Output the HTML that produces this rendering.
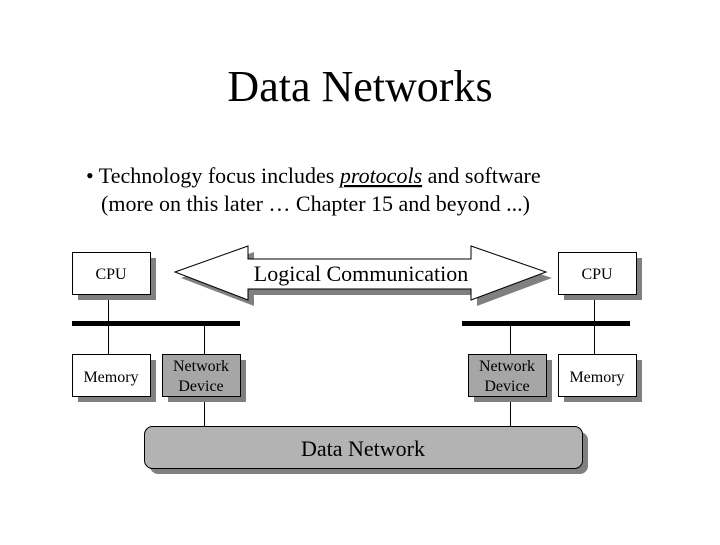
<!DOCTYPE html>
<html><head><style>
body{margin:0;background:#fff;}
svg text{font-family:"Liberation Serif",serif;fill:#000;}
</style></head><body>
<svg width="720" height="540" xmlns="http://www.w3.org/2000/svg">
<rect width="720" height="540" fill="#fff"/>
<text x="360" y="101" font-size="44" text-anchor="middle">Data Networks</text>
<text x="86" y="183" font-size="22">• Technology focus includes <tspan font-style="italic" text-decoration="underline">protocols</tspan> and software</text>
<text x="101" y="211" font-size="22">(more on this later … Chapter 15 and beyond ...)</text>
<!-- arrow shadow -->
<polygon points="181,278 254,252 254,265 477,265 477,252 552,278 477,306 477,295 254,295 254,306" fill="#808080"/>
<polygon points="175,272 248,246 248,259 471,259 471,246 546,272 471,300 471,289 248,289 248,300" fill="#fff" stroke="#000" stroke-width="1"/>
<text x="361" y="281" font-size="22" text-anchor="middle">Logical Communication</text>
<!-- lines -->
<g stroke="#000" stroke-width="1">
<line x1="108.5" y1="294" x2="108.5" y2="354"/>
<line x1="204.5" y1="322" x2="204.5" y2="426"/>
<line x1="510.5" y1="322" x2="510.5" y2="426"/>
<line x1="594.5" y1="294" x2="594.5" y2="354"/>
</g>
<rect x="72" y="321" width="168" height="5" fill="#000"/>
<rect x="462" y="321" width="168" height="5" fill="#000"/>
<!-- boxes -->
<g>
<rect x="78" y="258" width="78" height="42" fill="#808080"/>
<rect x="72.5" y="252.5" width="78" height="42" fill="#fff" stroke="#000"/>
<rect x="78" y="360" width="78" height="42" fill="#808080"/>
<rect x="72.5" y="354.5" width="78" height="42" fill="#fff" stroke="#000"/>
<rect x="168" y="360" width="78" height="42" fill="#808080"/>
<rect x="162.5" y="354.5" width="78" height="42" fill="#a6a6a6" stroke="#000"/>
<rect x="564" y="258" width="78" height="42" fill="#808080"/>
<rect x="558.5" y="252.5" width="78" height="42" fill="#fff" stroke="#000"/>
<rect x="564" y="360" width="78" height="42" fill="#808080"/>
<rect x="558.5" y="354.5" width="78" height="42" fill="#fff" stroke="#000"/>
<rect x="474" y="360" width="78" height="42" fill="#808080"/>
<rect x="468.5" y="354.5" width="78" height="42" fill="#a6a6a6" stroke="#000"/>
<rect x="150" y="432" width="438" height="42" rx="8" fill="#808080"/>
<rect x="144.5" y="426.5" width="438" height="42" rx="8" fill="#b3b3b3" stroke="#000"/>
</g>
<g font-size="16" text-anchor="middle">
<text x="111" y="279" font-size="16" text-anchor="middle">CPU</text>
<text x="111" y="382" font-size="16" text-anchor="middle">Memory</text>
<text x="201" y="371" font-size="16" text-anchor="middle">Network</text>
<text x="201" y="391" font-size="16" text-anchor="middle">Device</text>
<text x="597" y="279" font-size="16" text-anchor="middle">CPU</text>
<text x="597" y="382" font-size="16" text-anchor="middle">Memory</text>
<text x="507" y="371" font-size="16" text-anchor="middle">Network</text>
<text x="507" y="391" font-size="16" text-anchor="middle">Device</text>
</g>
<text x="363" y="456" font-size="22" text-anchor="middle">Data Network</text>
</svg>
</body></html>
